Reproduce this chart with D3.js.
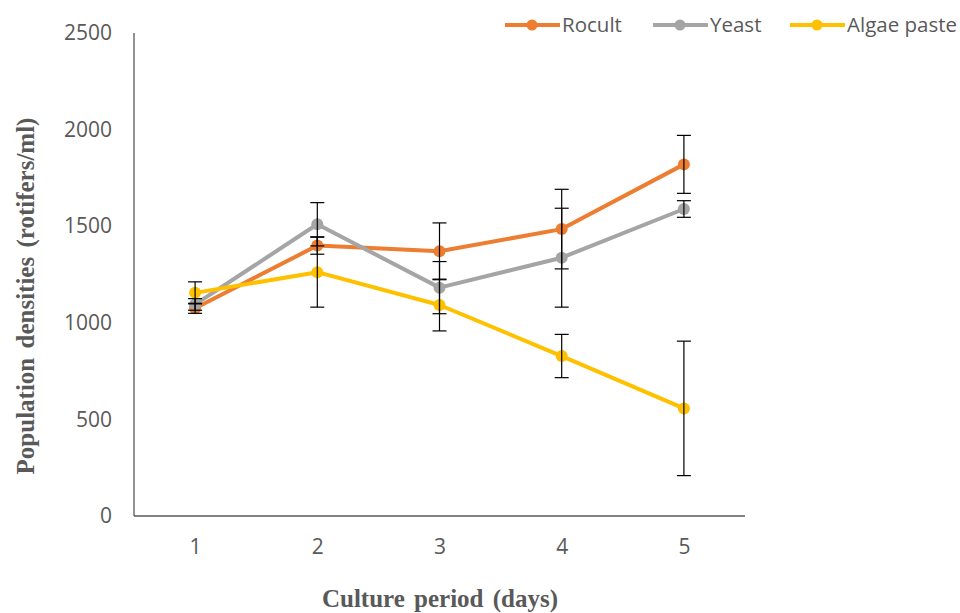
<!DOCTYPE html>
<html><head><meta charset="utf-8">
<script src="https://cdn.jsdelivr.net/npm/d3@7"></script>
<style>body{margin:0;background:#fff}svg{display:block}</style>
</head><body>
<svg id="c" width="960" height="613"></svg>
<script>
const days = [1, 2, 3, 4, 5];
const seriesNames = ["Rocult", "Yeast", "Algae paste"];
const seriesColors = ["#ED7D31", "#A5A5A5", "#FFC000"];
const rocult = [1075, 1400, 1370, 1485, 1820];
const rocultErr = [26, 45, 147, 206, 150];
const yeast = [1095, 1510, 1182, 1337, 1589];
const yeastErr = [30, 112, 135, 256, 43];
const algae = [1155, 1262, 1092, 828, 557];
const algaeErr = [57, 181, 134, 112, 348];
const yTicks = [0, 500, 1000, 1500, 2000, 2500];

const svg = d3.select("#c");
const x = d3.scalePoint().domain(days).range([134, 745]).padding(0.5);
const y = d3.scaleLinear().domain([0, 2500]).range([516, 33]);
const series = [
  {name: seriesNames[0], color: seriesColors[0], v: rocult, e: rocultErr},
  {name: seriesNames[1], color: seriesColors[1], v: yeast, e: yeastErr},
  {name: seriesNames[2], color: seriesColors[2], v: algae, e: algaeErr}
];
const axisColor = "#595959";
const font = "'Open Sans', sans-serif";

// axes
const yAxis = svg.append("g").attr("transform", "translate(134,0)")
  .call(d3.axisLeft(y).tickValues(yTicks).tickSize(0).tickPadding(22).tickFormat(d3.format("d")));
const xAxis = svg.append("g").attr("transform", "translate(0,516)")
  .call(d3.axisBottom(x).tickSize(0).tickPadding(23));
[yAxis, xAxis].forEach(a => {
  a.select(".domain").attr("stroke", axisColor).attr("stroke-width", 1.3);
  a.selectAll("text").attr("fill", axisColor).attr("font-family", font).attr("font-size", 21);
});
xAxis.select(".domain").attr("d", "M134,0H745");
yAxis.select(".domain").attr("d", "M0,33V516");

// lines & markers
const line = d3.line().x((d, i) => x(days[i])).y(d => y(d));
series.forEach(s => {
  svg.append("path").attr("d", line(s.v)).attr("fill", "none")
    .attr("stroke", s.color).attr("stroke-width", 4).attr("stroke-linejoin", "round");
  svg.selectAll(null).data(s.v).enter().append("circle")
    .attr("cx", (d, i) => x(days[i])).attr("cy", d => y(d)).attr("r", 6).attr("fill", s.color);
});
// error bars
series.forEach(s => {
  const g = svg.append("g").attr("stroke", "#000").attr("stroke-width", 1.2);
  s.v.forEach((v, i) => {
    const cx = x(days[i]), y1 = y(v + s.e[i]), y0 = y(v - s.e[i]);
    g.append("line").attr("x1", cx).attr("x2", cx).attr("y1", y1).attr("y2", y0);
    g.append("line").attr("x1", cx - 7).attr("x2", cx + 7).attr("y1", y1).attr("y2", y1);
    g.append("line").attr("x1", cx - 7).attr("x2", cx + 7).attr("y1", y0).attr("y2", y0);
  });
});

// legend
const legX = [505, 653, 790];
series.forEach((s, i) => {
  const g = svg.append("g").attr("transform", `translate(${legX[i]},25)`);
  g.append("line").attr("x1", 0).attr("x2", 55).attr("stroke", s.color).attr("stroke-width", 4);
  g.append("circle").attr("cx", 27).attr("r", 5.5).attr("fill", s.color);
  g.append("text").attr("x", 57).attr("y", 7).text(s.name)
    .attr("fill", axisColor).attr("font-family", font).attr("font-size", 20.5);
});

// axis titles
svg.append("text").attr("x", 440).attr("y", 607).attr("text-anchor", "middle")
  .attr("font-family", "'Liberation Serif', serif").attr("font-weight", "bold").attr("font-size", 25)
  .attr("word-spacing", 3).attr("fill", axisColor).text("Culture period (days)");
svg.append("text").attr("transform", "translate(34,296) rotate(-90)").attr("text-anchor", "middle")
  .attr("font-family", "'Liberation Serif', serif").attr("font-weight", "bold").attr("font-size", 25)
  .attr("word-spacing", 3).attr("fill", axisColor).text("Population densities (rotifers/ml)");
</script>
</body></html>
